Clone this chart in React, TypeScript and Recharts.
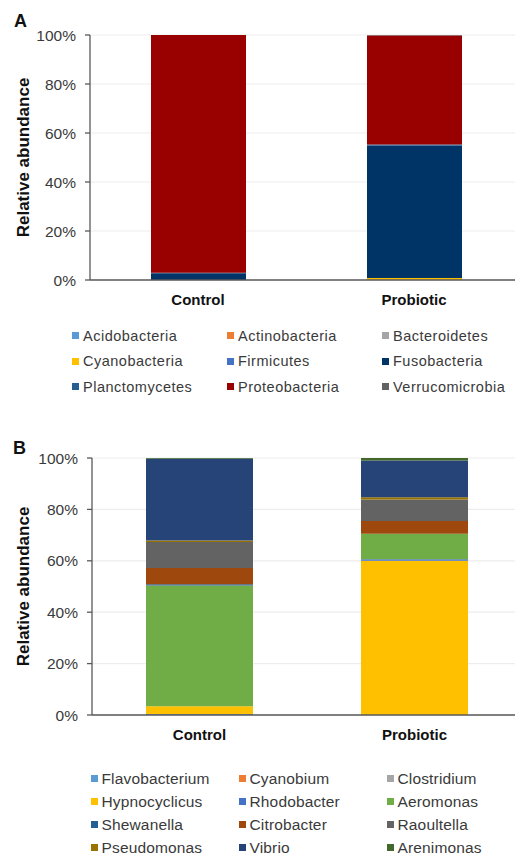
import { BarChart, Bar, XAxis, YAxis, CartesianGrid } from 'recharts';

const groups = ['Control', 'Probiotic'];
const yTicks = [0, 20, 40, 60, 80, 100];

// panel A: phyla, listed bottom-up as stacked
const phyla = ['Acidobacteria', 'Actinobacteria', 'Bacteroidetes', 'Cyanobacteria', 'Firmicutes', 'Fusobacteria', 'Planctomycetes', 'Proteobacteria', 'Verrucomicrobia'];
const phylaColors = ['#5B9BD5', '#ED7D31', '#A5A5A5', '#FFC000', '#4472C4', '#003366', '#255E91', '#990000', '#636363'];
const phylaControl = [0, 0, 0, 0, 0, 2.8, 0.2, 97.0, 0];
const phylaProbiotic = [0, 0, 0, 0.8, 0, 54.0, 0.5, 44.5, 0.2];

// panel B: genera
const genera = ['Flavobacterium', 'Cyanobium', 'Clostridium', 'Hypnocyclicus', 'Rhodobacter', 'Aeromonas', 'Shewanella', 'Citrobacter', 'Raoultella', 'Pseudomonas', 'Vibrio', 'Arenimonas'];
const generaColors = ['#5B9BD5', '#ED7D31', '#A5A5A5', '#FFC000', '#4472C4', '#70AD47', '#255E91', '#9E480E', '#636363', '#997300', '#264478', '#43682B'];
const generaControl = [0.4, 0, 0, 3.0, 0, 47.0, 0.5, 6.3, 10.1, 0.6, 31.8, 0.3];
const generaProbiotic = [0, 0, 0, 60.0, 0.6, 9.9, 0, 5.0, 8.4, 0.8, 14.3, 1.0];

const FONT = '"Liberation Sans", Arial, sans-serif';
const AXIS = '#595959';

function buildRows(names: string[], ...series: number[][]) {
  return groups.map((g, gi) => {
    const row: Record<string, any> = { group: g };
    names.forEach((n, i) => { row[n] = series[gi][i]; });
    return row;
  });
}

function YTitle(props: any) {
  const vb = props.viewBox;
  const cy = vb.y + vb.height / 2;
  return (
    <text x={23} y={cy} transform={`rotate(-90 23 ${cy})`} textAnchor="middle" dominantBaseline="central"
      fontFamily={FONT} fontSize={17} fontWeight="bold" fill="#111">Relative abundance</text>
  );
}

function Panel({ names, colors, rows, top, marginTop, height, axisWidth, barSize, letter }: any) {
  return (
    <div style={{ position: 'absolute', left: 0, top, width: 515, height, overflow: 'hidden' }}>
      <BarChart width={522} height={height} data={rows} margin={{ top: marginTop, right: 0, bottom: 15, left: 0 }}
        style={{ fontFamily: FONT }}>
        <CartesianGrid vertical={false} stroke="#EDEDED" strokeWidth={1.2} />
        <XAxis xAxisId="edges" type="number" domain={[0, 2]} ticks={[0, 1]} tick={false} axisLine={false}
          tickLine={{ stroke: AXIS, strokeWidth: 1.3 }} tickSize={5} height={0} />
        <XAxis xAxisId="cat" dataKey="group" tickLine={false} axisLine={{ stroke: AXIS, strokeWidth: 1.3 }}
          tickSize={0} tickMargin={14} height={25}
          tick={{ fill: '#111', fontSize: 15, fontWeight: 'bold', fontFamily: FONT }} />
        <YAxis type="number" domain={[0, 100]} ticks={yTicks} width={axisWidth} interval={0}
          tickFormatter={(v: number) => `${v}%`} axisLine={{ stroke: AXIS, strokeWidth: 1.3 }}
          tickLine={{ stroke: AXIS, strokeWidth: 1.3 }} tickSize={5} tickMargin={9}
          tick={{ fill: '#3a3a3a', fontSize: 15.5, fontFamily: FONT }}
          label={{ content: YTitle }} />
        {names.map((n: string, i: number) => (
          <Bar key={n} xAxisId="cat" dataKey={n} stackId="s" fill={colors[i]} barSize={barSize} isAnimationActive={false} />
        ))}
      </BarChart>
      <div style={{ position: 'absolute', left: letter.x, top: letter.y, fontFamily: FONT, fontWeight: 'bold', fontSize: 18, color: '#111', lineHeight: 1 }}>
        {letter.text}
      </div>
    </div>
  );
}

function LegendGrid({ names, colors, left, top, colWidth, rowHeight, fontSize, box, spacing }: any) {
  return (
    <div style={{ position: 'absolute', left, top, display: 'grid', gridTemplateColumns: `repeat(3, ${colWidth}px)`, fontFamily: FONT }}>
      {names.map((n: string, i: number) => (
        <div key={n} style={{ display: 'flex', alignItems: 'center', height: rowHeight, fontSize, letterSpacing: spacing, color: '#3a3a3a', whiteSpace: 'nowrap' }}>
          <span style={{ width: box, height: box, background: colors[i], marginRight: 4, flexShrink: 0 }} />
          <span>{n}</span>
        </div>
      ))}
    </div>
  );
}

export default function App() {
  const rowsA = buildRows(phyla, phylaControl, phylaProbiotic);
  const rowsB = buildRows(genera, generaControl, generaProbiotic);
  return (
    <div style={{ position: 'absolute', left: 0, top: 0, width: 515, height: 859, background: '#fff', overflow: 'hidden' }}>
      <Panel names={phyla} colors={phylaColors} rows={rowsA} top={0} marginTop={35} height={320}
        axisWidth={90} barSize={95} letter={{ text: 'A', x: 14, y: 12 }} />
      <LegendGrid names={phyla} colors={phylaColors} left={72} top={323} colWidth={155} rowHeight={25.5} fontSize={14.5} box={7} spacing={0.5} />
      <Panel names={genera} colors={generaColors} rows={rowsB} top={420} marginTop={38} height={335}
        axisWidth={92} barSize={107} letter={{ text: 'B', x: 13, y: 19 }} />
      <LegendGrid names={genera} colors={generaColors} left={91} top={767} colWidth={148} rowHeight={23} fontSize={15.5} box={6.5} spacing={0.15} />
    </div>
  );
}
